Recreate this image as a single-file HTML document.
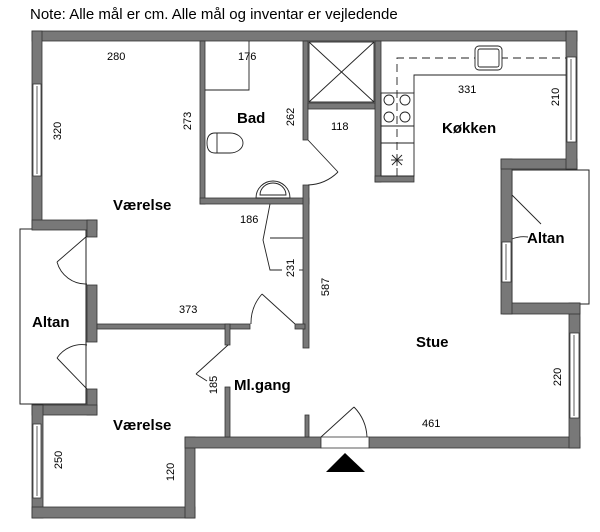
<!DOCTYPE html>
<html><head><meta charset="utf-8"><style>
html,body{margin:0;padding:0;background:#fff;width:600px;height:532px;overflow:hidden}
svg{display:block}
text{font-family:"Liberation Sans",sans-serif;fill:#000}
.n{font-size:11px}
.b{font-size:15px;font-weight:bold}
</style></head><body>
<svg width="600" height="532" viewBox="0 0 600 532">
<text x="30" y="19" style="font-size:15px">Note: Alle mål er cm. Alle mål og inventar er vejledende</text>
<g fill="#fff" stroke="#222" stroke-width="1">
<rect x="20" y="229" width="66" height="175"/>
<rect x="512" y="170" width="77" height="134"/>
</g>
<g fill="#787878" stroke="#333" stroke-width="0.8">
<rect x="32" y="31" width="545" height="10"/>
<rect x="32" y="31" width="10" height="198"/>
<rect x="32" y="220" width="65" height="10"/>
<rect x="87" y="220" width="10" height="17"/>
<rect x="87" y="285" width="10" height="57"/>
<rect x="87" y="389" width="10" height="26"/>
<rect x="32" y="405" width="65" height="10"/>
<rect x="32" y="405" width="11" height="113"/>
<rect x="32" y="507" width="163" height="11"/>
<rect x="185" y="437" width="10" height="81"/>
<rect x="185" y="437" width="136" height="11"/>
<rect x="369" y="437" width="211" height="11"/>
<rect x="569" y="303" width="11" height="145"/>
<rect x="503" y="303" width="77" height="11"/>
<rect x="501" y="159" width="11" height="155"/>
<rect x="501" y="159" width="76" height="10"/>
<rect x="566" y="31" width="11" height="138"/>
<rect x="200" y="41" width="5" height="163"/>
<rect x="200" y="198" width="109" height="6"/>
<rect x="303" y="41" width="5" height="99"/>
<rect x="303" y="185" width="6" height="163"/>
<rect x="308" y="103" width="73" height="6"/>
<rect x="375" y="41" width="6" height="141"/>
<rect x="375" y="176" width="39" height="6"/>
<rect x="97" y="324" width="153" height="5"/>
<rect x="295" y="324" width="10" height="5"/>
<rect x="225" y="324" width="5" height="21"/>
<rect x="225" y="387" width="5" height="50"/>
<rect x="305" y="415" width="4" height="22"/>
</g>
<g fill="#fff" stroke="#333" stroke-width="0.8">
<rect x="33" y="84" width="8" height="92"/><line x1="37" y1="86" x2="37" y2="174"/>
<rect x="33" y="424" width="8" height="74"/><line x1="37" y1="426" x2="37" y2="496"/>
<rect x="567" y="57" width="9" height="85"/><line x1="571" y1="59" x2="571" y2="140"/>
<rect x="570" y="333" width="9" height="85"/><line x1="574" y1="335" x2="574" y2="416"/>
<rect x="502" y="242" width="9" height="40"/><line x1="506" y1="244" x2="506" y2="280"/>
<rect x="321" y="437" width="48" height="11"/>
</g>
<g fill="none" stroke="#222" stroke-width="0.9">
<line x1="87" y1="236" x2="57" y2="262"/><path d="M57 262 A30 30 0 0 0 87 284"/>
<line x1="87" y1="389" x2="57" y2="358"/><path d="M57 358 A30 30 0 0 1 87 345"/>
<line x1="308" y1="140" x2="338" y2="172"/><path d="M338 172 A45 45 0 0 1 308 185"/>
<line x1="295" y1="324" x2="262" y2="294"/><path d="M262 294 A44 44 0 0 0 251 324"/>
<line x1="228" y1="345" x2="196" y2="374"/><line x1="196" y1="374" x2="207" y2="381"/>
<line x1="321" y1="437" x2="354" y2="407"/><path d="M354 407 A46 46 0 0 1 367 437"/>
<line x1="512" y1="195" x2="541" y2="224"/><path d="M512 239 A30 30 0 0 1 528 237"/>
<polyline points="249,41 249,90 205,90"/>
<polyline points="270,204 263,240 270,270 282,270"/>
<line x1="270" y1="238" x2="303" y2="238"/>
<line x1="299" y1="270" x2="303" y2="270"/>
<rect x="309" y="42" width="65" height="60"/>
<line x1="309" y1="42" x2="374" y2="102"/><line x1="374" y1="42" x2="309" y2="102"/>
<path d="M215 133 L230 133 A13 10 0 0 1 230 153 L215 153 Q207 153 207 143 Q207 133 215 133 Z"/>
<line x1="217" y1="133" x2="217" y2="153"/>
<path d="M256 198 A17 17 0 1 1 290 198 Z"/>
<path d="M260 195 A13 12 0 1 1 286 195 Z"/>
<rect x="381" y="93" width="33" height="83"/>
<line x1="381" y1="126" x2="414" y2="126"/><line x1="381" y1="143" x2="414" y2="143"/>
<circle cx="389" cy="100" r="5"/><circle cx="405" cy="100" r="5"/>
<circle cx="389" cy="117" r="5"/><circle cx="405" cy="117" r="5"/>
<line x1="391" y1="160" x2="403" y2="160"/><line x1="397" y1="154" x2="397" y2="166"/>
<line x1="392" y1="155" x2="402" y2="165"/><line x1="402" y1="155" x2="392" y2="165"/>
<polyline points="414,93 414,75 566,75"/>
<polyline points="397,176 397,58 566,58" stroke-dasharray="8,5"/>
<rect x="475" y="46" width="27" height="24" rx="4" fill="#fff"/>
<rect x="478" y="49" width="21" height="18" rx="2"/>
</g>
<polygon points="326,472 365,472 345,453" fill="#000"/>
<g class="n">
<text x="107" y="60">280</text>
<text x="238" y="60">176</text>
<text x="331" y="130">118</text>
<text x="458" y="93">331</text>
<text x="240" y="223">186</text>
<text x="179" y="313">373</text>
<text x="422" y="427">461</text>
<text transform="translate(61,131) rotate(-90)" text-anchor="middle">320</text>
<text transform="translate(191,121) rotate(-90)" text-anchor="middle">273</text>
<text transform="translate(294,117) rotate(-90)" text-anchor="middle">262</text>
<text transform="translate(559,97) rotate(-90)" text-anchor="middle">210</text>
<text transform="translate(294,268) rotate(-90)" text-anchor="middle">231</text>
<text transform="translate(329,287) rotate(-90)" text-anchor="middle">587</text>
<text transform="translate(217,385) rotate(-90)" text-anchor="middle">185</text>
<text transform="translate(561,377) rotate(-90)" text-anchor="middle">220</text>
<text transform="translate(62,460) rotate(-90)" text-anchor="middle">250</text>
<text transform="translate(174,472) rotate(-90)" text-anchor="middle">120</text>
</g>
<g class="b">
<text x="237" y="123">Bad</text>
<text x="442" y="133">Køkken</text>
<text x="527" y="243">Altan</text>
<text x="113" y="210">Værelse</text>
<text x="32" y="327">Altan</text>
<text x="416" y="347">Stue</text>
<text x="234" y="390">Ml.gang</text>
<text x="113" y="430">Værelse</text>
</g>
</svg>
</body></html>
